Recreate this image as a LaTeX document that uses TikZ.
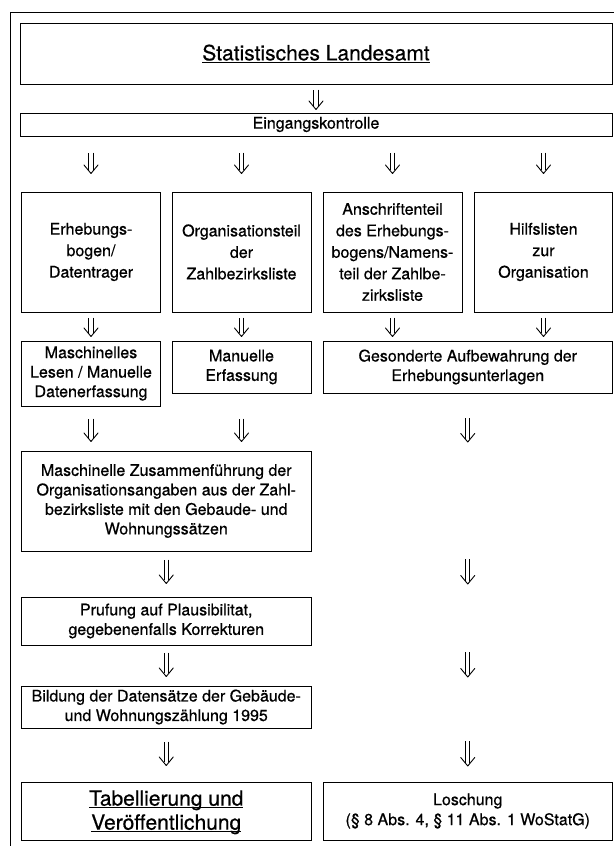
\documentclass[tikz,border=0pt]{standalone}
\usepackage{fontspec}
\setmainfont{TeX Gyre Heros}[FakeBold=0.6]
\usetikzlibrary{calc}
\newcommand\ulx[1]{\underline{\raisebox{0pt}[\height][0pt]{#1}}}
\newcommand\darr[2]{%
  \draw[dshaft] ($#1$) -- ($#2+(0,3.2pt)$);
  \draw[dhead] ($#2+(-7pt,8.5pt)$) .. controls ($#2+(-3pt,3.5pt)$) .. ($#2$)
     .. controls ($#2+(3pt,3.5pt)$) .. ($#2+(7pt,8.5pt)$);}
\begin{document}
\begin{tikzpicture}[x=1pt,y=-1pt,
  box/.style={draw, line width=1pt, inner sep=0pt, align=center,
    font={\fontsize{16}{19.5}\selectfont}},
  rowbox/.style={box, minimum height=120pt, font={\fontsize{16}{21.5}\selectfont}},
  bigbox/.style={box, font={\fontsize{21}{24}\selectfont}},
  dshaft/.style={draw, double, double distance=3.4pt, line width=0.9pt},
  dhead/.style={draw, line width=0.9pt, line cap=round, line join=round}]
\useasboundingbox (0,0) rectangle (614,846);
\draw[line width=1pt] (10,846) -- (10,12) -- (614,12);
% nodes
\node[bigbox, minimum width=592pt, minimum height=61pt] (T) at (316,53.5) {\ulx{Statistisches Landesamt}};
\node[box, minimum width=592pt, minimum height=23pt] (E) at (316,124.5) {Eingangskontrolle};
\node[rowbox, minimum width=139pt] (A) at (91,252) {Erhebungs-\\bogen/\\Datentrager};
\node[rowbox, minimum width=139pt] (B) at (241.5,252) {Organisationsteil\\der\\Zahlbezirksliste};
\node[rowbox, minimum width=139pt] (C) at (392.5,252) {Anschriftenteil\\des Erhebungs-\\bogens/Namens-\\teil der Zahlbe-\\zirksliste};
\node[rowbox, minimum width=138pt] (D) at (543.5,252) {Hilfslisten\\zur\\Organisation};
\node[box, minimum width=139pt, minimum height=65pt] (M) at (91,373.5) {Maschinelles\\Lesen / Manuelle\\Datenerfassung};
\node[box, minimum width=139pt, minimum height=52pt] (U) at (241.5,367) {Manuelle\\Erfassung};
\node[box, minimum width=289.5pt, minimum height=52pt] (G) at (467.75,367) {Gesonderte Aufbewahrung der\\Erhebungsunterlagen};
\node[box, minimum width=289.5pt, minimum height=100pt] (Z) at (166.25,501) {Maschinelle Zusammenführung der\\Organisationsangaben aus der Zahl-\\bezirksliste mit den Gebaude- und\\Wohnungssätzen};
\node[box, minimum width=289.5pt, minimum height=48pt] (P) at (166.25,621) {Prufung auf Plausibilitat,\\gegebenenfalls Korrekturen};
\node[box, minimum width=289.5pt, minimum height=42pt] (Bd) at (166.25,707) {Bildung der Datensätze der Gebäude-\\und Wohnungszählung 1995};
\node[bigbox, minimum width=289.5pt, minimum height=58pt] (Tb) at (166.25,811) {\ulx{Tabellierung und}\\\ulx{Veröffentlichung}};
\node[box, minimum width=289.5pt, minimum height=58pt, font={\fontsize{16}{20}\selectfont}] (L) at (467.75,811) {Loschung\\(§ 8 Abs. 4, § 11 Abs. 1 WoStatG)};
% right column free arrow ends
\coordinate (r1a) at (467.75,418); \coordinate (r1b) at (467.75,442);
\coordinate (r2a) at (467.75,559); \coordinate (r2b) at (467.75,584);
\coordinate (r3a) at (467.75,652); \coordinate (r3b) at (467.75,677);
\coordinate (r4a) at (467.75,741); \coordinate (r4b) at (467.75,766);
% arrows
\darr{(T.south)+(0,-5pt)}{(E.north)+(0,3pt)}
\darr{(E.south -| A.north)+(0,-16pt)}{(A.north)+(0,18pt)}
\darr{(E.south -| B.north)+(0,-16pt)}{(B.north)+(0,18pt)}
\darr{(E.south -| C.north)+(0,-16pt)}{(C.north)+(0,18pt)}
\darr{(E.south -| D.north)+(0,-16pt)}{(D.north)+(0,18pt)}
\darr{(A.south)+(0,-5pt)}{(M.north)+(0,4pt)}
\darr{(B.south)+(0,-5pt)}{(U.north)+(0,4pt)}
\darr{(C.south)+(0,-5pt)}{(C.south |- G.north)+(0,4pt)}
\darr{(D.south)+(0,-5pt)}{(D.south |- G.north)+(0,4pt)}
\darr{(M.south)+(0,-12pt)}{(M.south |- Z.north)+(0,9pt)}
\darr{(U.south)+(0,-25pt)}{(U.south |- Z.north)+(0,9pt)}
\darr{(Z.south)+(0,-8pt)}{(P.north)+(0,13pt)}
\darr{(P.south)+(0,-7pt)}{(Bd.north)+(0,9pt)}
\darr{(Bd.south)+(0,-13pt)}{(Tb.north)+(0,16pt)}
\darr{(r1a)}{(r1b)}
\darr{(r2a)}{(r2b)}
\darr{(r3a)}{(r3b)}
\darr{(r4a)}{(r4b)}
\end{tikzpicture}
\end{document}
